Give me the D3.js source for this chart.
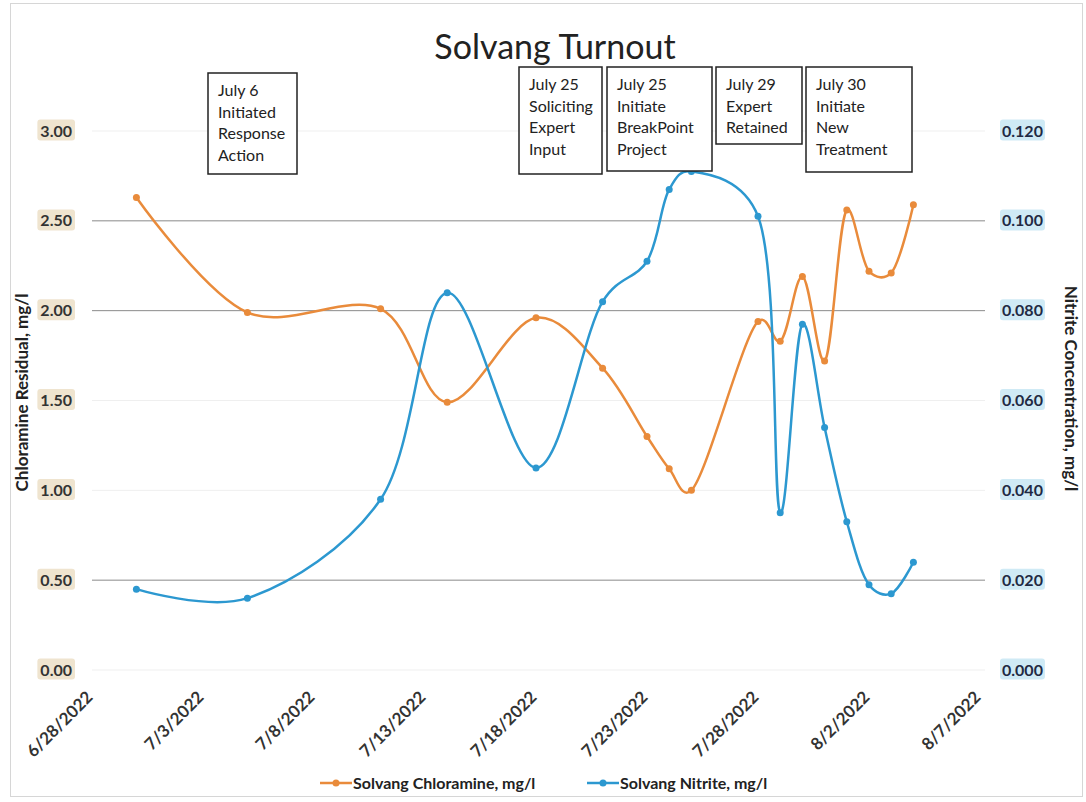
<!DOCTYPE html>
<html>
<head>
<meta charset="utf-8">
<script src="https://cdn.jsdelivr.net/npm/d3@7"></script>
<style>
  body { margin: 0; background: #fff; }
  text { font-family: Lato, "Noto Sans", sans-serif; }
</style>
</head>
<body>
<div class="chart"></div>
<script>
// sample dates and readings
const dates = ['2022-06-30', '2022-07-05', '2022-07-11', '2022-07-14', '2022-07-18', '2022-07-21',
  '2022-07-23', '2022-07-24', '2022-07-25', '2022-07-28', '2022-07-29', '2022-07-30',
  '2022-07-31', '2022-08-01', '2022-08-02', '2022-08-03', '2022-08-04'];
const chloramine = [2.63, 1.99, 2.01, 1.49, 1.96, 1.68, 1.30, 1.12, 1.00, 1.94, 1.83, 2.19, 1.72, 2.56, 2.22, 2.21, 2.59];
const nitrite = [0.018, 0.016, 0.038, 0.084, 0.045, 0.082, 0.091, 0.107, 0.111, 0.101, 0.035, 0.077, 0.054, 0.033, 0.019, 0.017, 0.024];

const xTicks = ['2022-06-28', '2022-07-03', '2022-07-08', '2022-07-13', '2022-07-18', '2022-07-23', '2022-07-28', '2022-08-02', '2022-08-07'];
const leftTicks = [0, 0.5, 1, 1.5, 2, 2.5, 3];
const rightTicks = [0, 0.02, 0.04, 0.06, 0.08, 0.1, 0.12];
const darkGrid = [0.5, 2, 2.5];

const seriesNames = ['Solvang Chloramine, mg/l', 'Solvang Nitrite, mg/l'];
const notes = [
  ['July 6', 'Initiated', 'Response', 'Action'],
  ['July 25', 'Soliciting', 'Expert', 'Input'],
  ['July 25', 'Initiate', 'BreakPoint', 'Project'],
  ['July 29', 'Expert', 'Retained'],
  ['July 30', 'Initiate', 'New', 'Treatment']
];
// where the text boxes sit on the page
const noteBoxes = [
  { x: 208, y: 73, w: 89, h: 101 },
  { x: 519, y: 67, w: 83, h: 107 },
  { x: 607, y: 67, w: 105, h: 104 },
  { x: 716, y: 67, w: 86, h: 77 },
  { x: 806, y: 67, w: 106, h: 105 }
];

const width = 1086, height = 802;
const plot = { left: 92, right: 985, top: 131, bottom: 670 };
const orange = '#E98B3B', blue = '#2C98D0';
const parse = d3.utcParse('%Y-%m-%d');

const svg = d3.select('.chart').append('svg')
  .attr('width', width)
  .attr('height', height);

svg.append('rect')
  .attr('x', 10.5).attr('y', 3.5)
  .attr('width', 1072).attr('height', 793)
  .attr('fill', '#fff')
  .attr('stroke', '#d6d6d6');

const x = d3.scaleUtc()
  .domain([parse(xTicks[0]), parse(xTicks[xTicks.length - 1])])
  .range([92, 980]);
const yL = d3.scaleLinear().domain([0, 3]).range([plot.bottom, plot.top]);
const yR = d3.scaleLinear().domain([0, 0.12]).range([plot.bottom, plot.top]);

// gridlines
svg.append('g')
  .selectAll('line')
  .data(leftTicks)
  .join('line')
  .attr('x1', plot.left).attr('x2', plot.right)
  .attr('y1', d => yL(d)).attr('y2', d => yL(d))
  .attr('stroke', d => darkGrid.includes(d) ? '#8a8a8a' : '#efefef')
  .attr('stroke-width', 1);

// left axis
const leftAxis = svg.append('g')
  .attr('transform', 'translate(72,0)')
  .call(d3.axisLeft(yL).tickValues(leftTicks).tickFormat(d3.format('.2f')).tickSize(0).tickPadding(0))
  .call(g => g.select('.domain').remove());
leftAxis.selectAll('text')
  .attr('font-size', 16).attr('font-weight', 'bold').attr('fill', '#333')
  .attr('font-family', 'Lato, sans-serif');
leftAxis.selectAll('.tick').each(function () {
  const t = d3.select(this).select('text');
  const b = t.node().getBBox();
  d3.select(this).insert('rect', 'text')
    .attr('x', b.x - 3).attr('y', b.y - 1)
    .attr('width', b.width + 6).attr('height', b.height + 2)
    .attr('rx', 3)
    .attr('fill', '#efe4cf');
});

// right axis
const rightAxis = svg.append('g')
  .attr('transform', 'translate(1002,0)')
  .call(d3.axisRight(yR).tickValues(rightTicks).tickFormat(d3.format('.3f')).tickSize(0).tickPadding(0))
  .call(g => g.select('.domain').remove());
rightAxis.selectAll('text')
  .attr('font-size', 16).attr('font-weight', 'bold').attr('fill', '#1f2a44')
  .attr('font-family', 'Lato, sans-serif');
rightAxis.selectAll('.tick').each(function () {
  const t = d3.select(this).select('text');
  const b = t.node().getBBox();
  d3.select(this).insert('rect', 'text')
    .attr('x', b.x - 2).attr('y', b.y - 1)
    .attr('width', b.width + 4).attr('height', b.height + 2)
    .attr('rx', 3)
    .attr('fill', '#cfeaf5');
});

// bottom axis, rotated date labels
const bottomAxis = svg.append('g')
  .attr('transform', `translate(0,${plot.bottom})`)
  .call(d3.axisBottom(x).tickValues(xTicks.map(parse)).tickFormat(d3.utcFormat('%-m/%-d/%Y')).tickSize(0))
  .call(g => g.select('.domain').remove());
bottomAxis.selectAll('text')
  .attr('font-size', 17).attr('font-weight', 'bold').attr('fill', '#333')
  .attr('font-family', 'Lato, sans-serif')
  .attr('text-anchor', 'end')
  .attr('dy', '0.35em')
  .attr('transform', 'translate(-5,22) rotate(-45)');

// axis titles
svg.append('text')
  .attr('transform', `translate(28,${(plot.top + plot.bottom) / 2 - 8}) rotate(-90)`)
  .attr('text-anchor', 'middle')
  .attr('font-size', 17).attr('font-weight', 'bold').attr('fill', '#222')
  .text('Chloramine Residual, mg/l');

svg.append('text')
  .attr('transform', `translate(1065,${(plot.top + plot.bottom) / 2 - 12}) rotate(90)`)
  .attr('text-anchor', 'middle')
  .attr('font-size', 17).attr('font-weight', 'bold').attr('fill', '#222')
  .text('Nitrite Concentration, mg/l');

// title
svg.append('text')
  .attr('x', 555).attr('y', 59)
  .attr('text-anchor', 'middle')
  .attr('font-size', 34).attr('fill', '#222')
  .text('Solvang Turnout');

// lines
const rows = dates.map((d, i) => ({ date: parse(d), cl: chloramine[i], ni: nitrite[i] }));
const curve = d3.curveCatmullRom.alpha(0.25);

const lineCl = d3.line().x(d => x(d.date)).y(d => yL(d.cl)).curve(curve);
const lineNi = d3.line().x(d => x(d.date)).y(d => yR(d.ni)).curve(curve);

svg.append('path')
  .datum(rows)
  .attr('d', lineCl)
  .attr('fill', 'none')
  .attr('stroke', orange)
  .attr('stroke-width', 2.5);

svg.append('path')
  .datum(rows)
  .attr('d', lineNi)
  .attr('fill', 'none')
  .attr('stroke', blue)
  .attr('stroke-width', 2.5);

svg.append('g')
  .selectAll('circle')
  .data(rows)
  .join('circle')
  .attr('cx', d => x(d.date)).attr('cy', d => yL(d.cl))
  .attr('r', 3.5)
  .attr('fill', orange);

svg.append('g')
  .selectAll('circle')
  .data(rows)
  .join('circle')
  .attr('cx', d => x(d.date)).attr('cy', d => yR(d.ni))
  .attr('r', 3.5)
  .attr('fill', blue);

// annotation boxes
const note = svg.append('g')
  .selectAll('g')
  .data(notes)
  .join('g')
  .attr('transform', (d, i) => `translate(${noteBoxes[i].x},${noteBoxes[i].y})`);

note.append('rect')
  .attr('width', (d, i) => noteBoxes[i].w)
  .attr('height', (d, i) => noteBoxes[i].h)
  .attr('fill', '#fff')
  .attr('stroke', '#222')
  .attr('stroke-width', 1.5);

note.each(function (lines) {
  d3.select(this).selectAll('text')
    .data(lines)
    .join('text')
    .attr('x', 10)
    .attr('y', (d, j) => 23 + j * 21.7)
    .attr('font-size', 16)
    .attr('fill', '#222')
    .text(d => d);
});

// legend
const legend = svg.append('g')
  .attr('transform', 'translate(320,783)')
  .selectAll('g')
  .data(seriesNames)
  .join('g')
  .attr('transform', (d, i) => `translate(${i * 267},0)`);

legend.append('line')
  .attr('x1', 0).attr('x2', 32)
  .attr('stroke', (d, i) => i === 0 ? orange : blue)
  .attr('stroke-width', 2.5);

legend.append('circle')
  .attr('cx', 16).attr('r', 3.5)
  .attr('fill', (d, i) => i === 0 ? orange : blue);

legend.append('text')
  .attr('x', 33)
  .attr('dy', '0.35em')
  .attr('font-size', 16).attr('font-weight', 'bold').attr('fill', '#222')
  .text(d => d);
</script>
</body>
</html>
